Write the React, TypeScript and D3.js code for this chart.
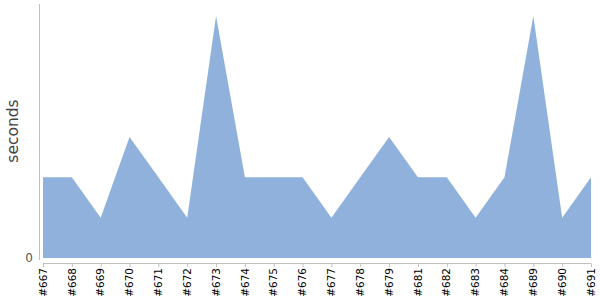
import React from "react";
import * as d3 from "d3";

const builds = ["#667","#668","#669","#670","#671","#672","#673","#674","#675","#676","#677","#678","#679","#681","#682","#683","#684","#689","#690","#691"];
const seconds = [2,2,1,3,2,1,6,2,2,2,1,2,3,2,2,1,2,6,1,2];
const yTicks = [0];

export default function App() {
  const W = 600, H = 300;
  const x = d3.scalePoint<string>().domain(builds).range([43, 591]);
  const y = d3.scaleLinear().domain([0, 6.3]).range([258, 4]);
  const area = d3.area<number>()
    .x((_, i) => x(builds[i]) as number)
    .y0(y(0))
    .y1(d => y(d));
  const font = "'DejaVu Sans', Verdana, sans-serif";
  return (
    <svg width={W} height={H} style={{ position: "absolute", left: 0, top: 0, fontFamily: font }}>
      <path d={area(seconds) || ""} fill="#8fb1db" />
      <line x1={39.5} x2={39.5} y1={4} y2={260} stroke="#c0c0c0" strokeWidth={1} />
      <line x1={43} x2={591} y1={263.5} y2={263.5} stroke="#c0c0c0" strokeWidth={1} />
      {builds.map(b => (
        <g key={b} transform={`translate(${x(b)},0)`}>
          <line x1={0.5} x2={0.5} y1={263.5} y2={267} stroke="#c0c0c0" />
          <text transform="translate(0,268) rotate(-90)" textAnchor="end" dy="0.35em" fontSize={10.5} fill="#000">{b}</text>
        </g>
      ))}
      {yTicks.map(t => (
        <text key={t} x={33} y={y(t)} dy="0.35em" textAnchor="end" fontSize={12} fill="#555">{t}</text>
      ))}
      <text transform="translate(18,131) rotate(-90)" textAnchor="middle" fontSize={15.5} fill="#444">seconds</text>
    </svg>
  );
}
